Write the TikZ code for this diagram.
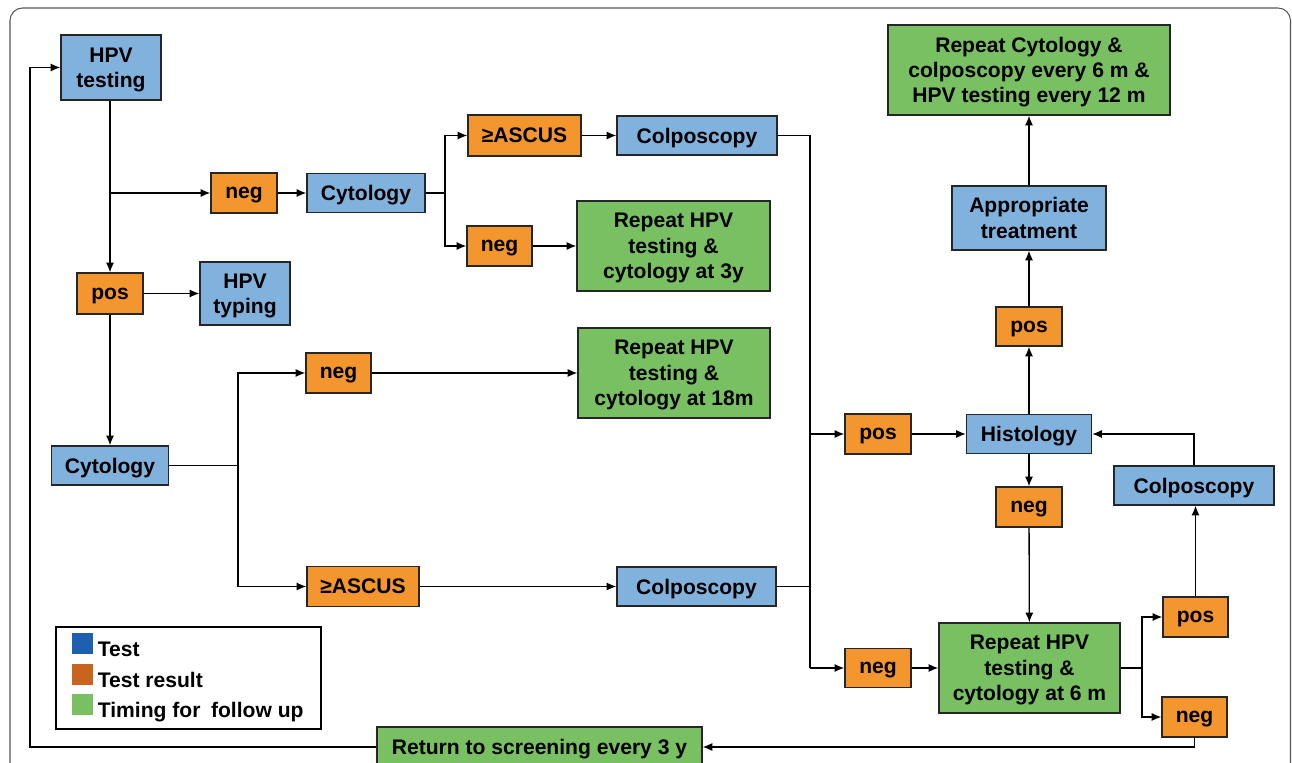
\documentclass[tikz,border=0pt]{standalone}
\usepackage{fontspec}
\setmainfont{Liberation Sans}
\usepackage{tikz}
\usetikzlibrary{arrows.meta, positioning, calc}

\definecolor{testblue}{HTML}{81B1DD}
\definecolor{resorange}{HTML}{F3962D}
\definecolor{timegreen}{HTML}{78C062}
\definecolor{keyblue}{HTML}{1E60AF}
\definecolor{keyorange}{HTML}{C8641E}
\definecolor{framegray}{HTML}{555555}

\tikzset{
  box/.style={draw=black!85, line width=0.8pt, align=center, inner sep=0pt, text depth=0pt,
    font=\fontsize{12}{14.4}\selectfont\bfseries},
  test/.style={box, fill=testblue},
  result/.style={box, fill=resorange, minimum width=1.32cm, minimum height=0.8cm},
  timing/.style={box, fill=timegreen},
  key/.style={minimum size=0.42cm, inner sep=0pt},
  keytext/.style={anchor=base west, inner sep=0pt, font=\fontsize{12}{14.4}\selectfont\bfseries}
}

\begin{document}
\begin{tikzpicture}[x=0.02cm, y=-0.02cm, >={Latex[length=5.5pt,width=4.6pt]}, line width=0.75pt]
  \useasboundingbox (0,0) rectangle (1292,763);
  \draw[framegray, line width=0.6pt, rounded corners=0.25cm] (10,775) -- (10,8) -- (1290.5,8) -- (1290.5,775);

  \node[test, minimum width=2cm, minimum height=1.3cm] (hpv) at (111,67.5) {HPV\\testing};
  \node[result] (neg1) at (244,193) {neg};
  \node[test, minimum width=2.36cm, minimum height=0.78cm] (cyto1) at (366,193) {Cytology};
  \node[result, minimum width=2.26cm, minimum height=0.82cm] (ascus1) at (524.5,135.5) {≥ASCUS};
  \node[test, minimum width=3.2cm, minimum height=0.78cm] (colpo1) at (697,135.5) {Colposcopy};
  \node[result, minimum width=1.3cm] (neg2) at (499.5,246) {neg};
  \node[timing, minimum width=3.86cm, minimum height=1.8cm] (rep3y) at (673.5,246) {Repeat HPV\\testing \&\\cytology at 3y};
  \node[result, minimum height=0.82cm] (pos1) at (110,293.5) {pos};
  \node[test, minimum width=1.8cm, minimum height=1.26cm] (typing) at (245,293.5) {HPV\\typing};
  \node[test, minimum width=2.34cm, minimum height=0.78cm] (cyto2) at (110,465.5) {Cytology};
  \node[result, minimum width=1.3cm] (neg3) at (338.5,373) {neg};
  \node[timing, minimum width=3.84cm, minimum height=1.8cm] (rep18) at (674,373) {Repeat HPV\\testing \&\\cytology at 18m};
  \node[result, minimum width=2.24cm] (ascus2) at (363,586.5) {≥ASCUS};
  \node[test, minimum width=3.18cm, minimum height=0.78cm] (colpo2) at (696.5,586.5) {Colposcopy};

  \node[result] (pos2) at (878,434) {pos};
  \node[test, minimum width=2.5cm, minimum height=0.78cm] (histo) at (1029,434) {Histology};
  \node[result, minimum height=0.78cm] (pos3) at (1029,326.5) {pos};
  \node[test, minimum width=3.08cm, minimum height=1.28cm] (treat) at (1029,218) {Appropriate\\treatment};
  \node[timing, minimum width=5.64cm, minimum height=1.8cm] (repcol) at (1029,70) {Repeat Cytology \&\\colposcopy every 6 m \&\\HPV testing every 12 m};
  \node[result] (neg4) at (1029,507) {neg};
  \node[test, minimum width=3.2cm, minimum height=0.78cm] (colpo3) at (1194,485.5) {Colposcopy};
  \node[timing, minimum width=3.62cm, minimum height=1.8cm] (rep6) at (1029.5,668) {Repeat HPV\\testing \&\\cytology at 6 m};
  \node[result, minimum height=0.78cm] (neg5) at (878,668) {neg};
  \node[result, minimum width=1.3cm] (pos4) at (1195.5,617) {pos};
  \node[result, minimum width=1.3cm] (neg6) at (1194.5,717) {neg};
  \node[timing, minimum width=6.5cm, minimum height=0.8cm] (ret) at (539.5,747) {Return to screening every 3 y};

  \node[draw, line width=0.8pt, minimum width=5.3cm, minimum height=2.04cm] (legend) at (188.5,678) {};
  \foreach \c/\t/\y in {keyblue/Test/643.5, keyorange/Test result/674.5, timegreen/Timing for\enspace follow up/704.5} {
    \node[key, fill=\c] (key-\c) at (82.5,\y) {};
    \node[keytext] at ($(key-\c.south east)+(3.5,2)$) {\t};
  }

  \coordinate (s1) at (445,193);
  \coordinate (s2) at (238,465.5);
  \coordinate (s3) at (810,135.5);
  \coordinate (s4) at (1142,668);
  \coordinate (back) at (30,747);

  \draw[->] (pos1.north |- hpv.south) -- (pos1.north);
  \draw[->] (pos1.north |- neg1) -- (neg1);
  \draw (cyto1) -- (s1);
  \draw[->] (s1) |- (ascus1);
  \draw[->] (s1) |- (neg2);
  \draw (cyto2) -- (s2);
  \draw[->] (s2) |- (neg3);
  \draw[->] (s2) |- (ascus2);
  \draw (colpo1) -- (s3) -- (s3 |- neg5);
  \draw (colpo2) -- (colpo2 -| s3);
  \draw[->] (s3 |- pos2) -- (pos2);
  \draw[->] (s3 |- neg5) -- (neg5);
  \draw (rep6) -- (s4);
  \draw[->] (s4) |- (pos4);
  \draw[->] (s4) |- (neg6);
  \draw[->] (pos4) -- (pos4 |- colpo3.south);
  \draw[->] (colpo3.north) |- (histo.east);
  \draw[->] (neg6.south) |- (ret.east);
  \draw[->] (ret.west) -- (back) |- (hpv.west);

  \foreach \a/\b in {neg1/cyto1, ascus1/colpo1, neg2/rep3y, pos1/typing, pos1/cyto2,
      neg3/rep18, ascus2/colpo2, pos2/histo, histo/pos3, pos3/treat, treat/repcol,
      histo/neg4, neg4/rep6, neg5/rep6} {
    \draw[->] (\a) -- (\b);
  };
\end{tikzpicture}
\end{document}
